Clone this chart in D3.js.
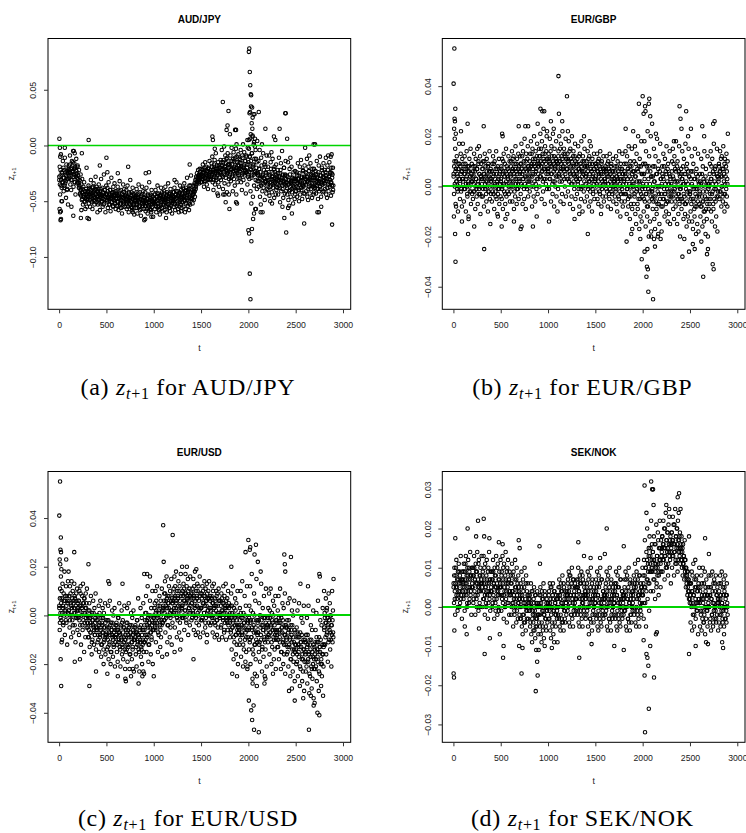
<!DOCTYPE html>
<html>
<head>
<meta charset="utf-8">
<script src="https://cdn.jsdelivr.net/npm/d3@7"></script>
<style>
  body { margin: 0; background: #fff; }
  svg { display: block; }
</style>
</head>
<body>
<svg id="chart" width="746" height="833"></svg>
<script>
// ── Data ─────────────────────────────────────────────────────────────────────
// values are z_{t+1} in units of 1e-3. Each row of a cloud / core list holds the
// points of one block of 100 time steps (t = 0..2900); core rows are the dense
// middle of the band, extras are isolated points [t, value]
const tTicks = [0, 500, 1000, 1500, 2000, 2500, 3000];

const audjpyTicks = [-0.10, -0.05, 0.00, 0.05];
const audjpyCloud = [
  [-31,-19,-44,-27,-8,-36,-24,-50,-33,-14,-29,-41,-22,-38,-11,-34,-26,-47,-17,-30,-39,-25,-53,-21],
  [-18,-29,-24,-9,-35,-21,-40,-27,-14,-31,-23,-5,-37,-26,-16,-33,-20,-44,-28,-12,-25,-34,-19,-30],
  [-27,-34,-22,-38,-31,-44,-26,-40,-35,-49,-30,-42,-53,-37,-46,-33,-51,-41,-57,-44,-39,-48,-55,-43],
  [-41,-48,-36,-52,-44,-39,-55,-46,-31,-43,-50,-38,-57,-45,-42,-34,-49,-53,-40,-47,-28,-44,-51,-37],
  [-46,-39,-53,-42,-35,-49,-44,-58,-41,-47,-30,-51,-45,-38,-55,-43,-48,-26,-52,-40,-46,-60,-44,-36],
  [-43,-50,-38,-56,-46,-33,-48,-44,-53,-40,-59,-47,-29,-45,-51,-42,-55,-37,-49,-45,-34,-52,-41,-57],
  [-48,-41,-54,-45,-37,-51,-58,-44,-47,-32,-53,-49,-40,-56,-46,-61,-43,-50,-35,-47,-52,-39,-55,-45],
  [-45,-52,-40,-57,-48,-36,-50,-46,-60,-43,-54,-49,-31,-47,-55,-42,-51,-58,-38,-48,-53,-44,-62,-49],
  [-50,-43,-56,-47,-39,-53,-61,-46,-49,-35,-55,-51,-42,-58,-48,-63,-45,-52,-37,-49,-54,-41,-57,-47],
  [-47,-54,-42,-59,-50,-38,-52,-48,-61,-45,-56,-51,-33,-49,-57,-44,-53,-60,-40,-50,-55,-46,-64,-51],
  [-51,-44,-57,-48,-40,-54,-60,-46,-50,-36,-55,-52,-43,-58,-47,-62,-45,-53,-38,-49,-56,-42,-59,-48],
  [-46,-53,-41,-58,-49,-37,-51,-47,-60,-44,-55,-50,-34,-48,-56,-43,-52,-59,-39,-47,-54,-45,-61,-50],
  [-49,-42,-55,-46,-38,-52,-58,-44,-48,-33,-54,-50,-41,-57,-45,-60,-43,-51,-36,-47,-53,-40,-56,-46],
  [-44,-51,-38,-55,-46,-34,-49,-43,-57,-40,-52,-47,-29,-45,-54,-41,-50,-58,-36,-44,-53,-42,-27,-48],
  [-47,-40,-52,-44,-36,-49,-42,-34,-46,-31,-39,-28,-35,-25,-32,-29,-22,-31,-27,-34,-21,-29,-26,-33],
  [-28,-21,-33,-25,-17,-30,-24,-37,-22,-29,-15,-32,-26,-19,-35,-27,-23,-39,-30,-20,-25,-14,-31,-24],
  [-22,-30,-16,-27,-10,-33,-24,-40,-19,-28,-13,-35,-21,-7,-31,-25,-18,-43,-26,-15,-23,-37,-20,-29],
  [-24,-13,-31,-18,-4,-27,-21,-39,-15,-26,-1,-34,-19,-9,-29,-22,-12,-42,-25,-7,-17,-35,-20,-28],
  [-17,-26,-9,-32,-21,-2,-28,-14,-41,-23,-6,-30,-19,-36,-11,-25,-3,-44,-20,-15,-33,-22,-8,-27],
  [-21,-12,-29,-16,-4,-33,-19,-40,-9,-25,1,-31,-18,-6,-27,-23,-14,-43,-24,-10,-20,-35,-2,-26],
  [-15,-3,-30,-10,6,-41,-22,-52,-7,-27,9,-46,-17,1,-36,-24,-1,-57,-31,-12,-20,-39,4,-26],
  [-25,-14,-37,-21,-4,-46,-30,-53,-11,-34,1,-41,-27,-7,-38,-29,-17,-49,-32,-19,-24,-43,-9,-35],
  [-31,-19,-40,-26,-9,-45,-33,-50,-15,-36,-6,-42,-28,-12,-38,-30,-21,-47,-34,-24,-29,-44,-17,-37],
  [-28,-38,-22,-44,-31,-11,-36,-25,-51,-33,-16,-41,-29,-5,-39,-27,-47,-32,-20,-35,-43,-26,-14,-30],
  [-36,-27,-44,-31,-15,-49,-35,-54,-21,-40,-11,-46,-33,-19,-42,-34,-29,-52,-38,-30,-32,-48,-23,-41],
  [-30,-41,-24,-46,-34,-16,-38,-27,-50,-35,-19,-44,-32,-13,-40,-29,-48,-36,-22,-37,-43,-28,-18,-33],
  [-33,-24,-41,-28,-12,-46,-32,-49,-19,-37,-9,-43,-30,-16,-39,-31,-26,-47,-35,-25,-29,-44,-21,-38],
  [-29,-38,-23,-43,-32,-14,-36,-26,-48,-34,-18,-41,-30,-10,-39,-27,-46,-33,-20,-35,-42,-25,-16,-31],
  [-32,-22,-39,-27,-11,-44,-30,-47,-18,-35,-9,-41,-28,-15,-37,-31,-24,-45,-33,-25,-29,-42,-20,-36]
];
const audjpyCore = [
  [-28,-35,-22,-31,-38,-25,-33,-20,-29,-36,-24,-32,-27,-40,-23,-30],
  [-22,-27,-17,-25,-31,-20,-24,-15,-28,-21,-33,-19,-26,-23,-29,-18],
  [-33,-38,-36,-43,-40,-45,-42,-48,-39,-46,-44,-50,-41,-47,-43,-49],
  [-42,-46,-38,-44,-49,-40,-45,-51,-43,-37,-47,-41,-50,-44,-39,-48],
  [-45,-41,-48,-43,-52,-46,-39,-44,-50,-47,-42,-53,-45,-40,-49,-44],
  [-44,-49,-41,-47,-53,-45,-40,-48,-51,-43,-46,-54,-42,-47,-50,-45],
  [-47,-43,-50,-45,-54,-48,-41,-46,-52,-49,-44,-55,-47,-42,-51,-46],
  [-48,-44,-51,-46,-55,-49,-42,-47,-53,-50,-45,-56,-48,-43,-52,-47],
  [-49,-53,-45,-51,-56,-47,-43,-50,-54,-48,-46,-57,-44,-52,-49,-51],
  [-50,-54,-46,-52,-57,-48,-44,-51,-55,-49,-47,-58,-45,-53,-50,-52],
  [-48,-52,-44,-50,-55,-46,-43,-49,-54,-47,-45,-57,-44,-51,-48,-53],
  [-47,-51,-43,-49,-54,-45,-42,-48,-53,-46,-44,-56,-43,-50,-47,-52],
  [-46,-50,-42,-48,-53,-44,-41,-47,-52,-45,-43,-55,-42,-49,-46,-51],
  [-43,-47,-39,-45,-50,-41,-38,-44,-49,-42,-40,-52,-39,-46,-36,-48],
  [-45,-48,-42,-44,-39,-41,-35,-37,-31,-33,-28,-30,-26,-29,-24,-27],
  [-26,-30,-22,-28,-24,-32,-20,-27,-25,-29,-23,-31,-21,-26,-28,-24],
  [-24,-28,-19,-26,-22,-31,-17,-25,-23,-29,-20,-27,-21,-33,-18,-24],
  [-20,-25,-15,-22,-18,-28,-13,-21,-19,-26,-16,-23,-11,-24,-17,-30],
  [-19,-24,-14,-22,-17,-27,-12,-21,-20,-26,-15,-23,-10,-25,-18,-29],
  [-18,-23,-13,-21,-16,-26,-11,-20,-19,-25,-14,-22,-9,-24,-17,-28],
  [-17,-24,-10,-21,-14,-29,-7,-19,-18,-26,-12,-23,-4,-25,-15,-32],
  [-27,-32,-21,-29,-24,-36,-18,-28,-26,-34,-22,-30,-15,-33,-25,-39],
  [-29,-34,-24,-31,-27,-37,-21,-30,-28,-35,-25,-32,-19,-33,-26,-40],
  [-30,-35,-25,-32,-28,-38,-22,-31,-29,-36,-26,-33,-20,-34,-27,-41],
  [-33,-38,-28,-35,-31,-41,-26,-34,-32,-39,-29,-36,-24,-37,-30,-44],
  [-32,-37,-27,-34,-30,-40,-25,-33,-31,-38,-28,-35,-23,-36,-29,-43],
  [-30,-35,-25,-33,-28,-39,-23,-31,-29,-36,-26,-34,-21,-37,-27,-42],
  [-31,-36,-26,-33,-29,-39,-24,-32,-30,-37,-27,-34,-22,-35,-28,-41],
  [-29,-34,-24,-32,-27,-38,-22,-30,-28,-35,-25,-33,-20,-36,-26,-40]
];
const audjpyExtra = [
  [3,6],[8,-2],[12,-10],[5,-57],[10,-60],[15,-67],[20,-66],[18,-59],[25,-50],[60,-2],[130,-55],[150,-63],
  [155,-5],[165,-7],[240,-7],[230,-65],[235,-58],[300,-65],[312,5],[315,-66],[290,-20],[430,-18],[405,-60],
  [500,-11],[510,-24],[620,-25],[730,-19],[780,-60],[900,-67],[910,-66],[915,-25],[950,-24],[975,-64],
  [1130,-65],[1220,-31],[1290,-59],[1380,-17],[1330,-60],[1620,8],[1625,5],[1645,-3],[1680,-45],[1730,39],
  [1735,-44],[1750,-44],[1760,-51],[1770,14],[1780,18],[1790,31],[1795,-44],[1800,-57],[1805,10],[1860,14],
  [1870,14],[1875,1],[1870,-51],[1880,-52],[1990,5],[2000,-76],[2005,84],[2008,-79],[2010,87],[2012,29],
  [2015,66],[2015,-115],[2018,30],[2020,54],[2022,-138],[2025,46],[2028,35],[2030,45],[2032,-86],[2035,20],
  [2038,-75],[2040,34],[2042,15],[2045,25],[2050,-66],[2055,28],[2060,-61],[2065,28],[2070,6],[2080,-57],
  [2005,5],[2025,10],[2045,8],[2060,3],[2110,30],[2130,-60],[2150,-60],[2180,15],[2250,-52],[2270,8],
  [2285,5],[2330,15],[2360,-55],[2380,-65],[2390,29],[2395,29],[2400,-78],[2410,6],[2420,-56],[2460,-61],
  [2590,-70],[2600,-2],[2690,1],[2705,1],[2730,-60],[2745,-60],[2770,-55],[2870,-10],[2880,-8],[2885,-71]
];

const eurgbpTicks = [-0.04, -0.02, 0.00, 0.02, 0.04];
const eurgbpCloud = [
  [5,-3,10,1,15,-7,7,2,12,-1,4,-10,9,0,17,3,-5,8,13,-2,6,-8,11,3],
  [2,9,-6,5,12,-1,7,-10,3,14,0,-4,8,1,-12,6,11,-2,4,15,-7,2,9,-3],
  [4,-5,8,1,13,-2,6,-9,11,3,-1,7,15,-7,2,10,-3,5,0,12,-11,4,9,-4],
  [1,7,-4,10,3,-8,5,13,-1,8,2,-6,11,0,4,-10,9,-2,6,14,-5,3,7,-3],
  [3,-6,9,0,12,-3,5,-9,10,1,-2,7,14,-5,2,-11,8,-1,4,11,-7,1,6,-4],
  [2,8,-5,11,0,-9,6,13,-2,4,9,-7,1,15,-4,5,-11,7,3,12,-3,0,10,-6],
  [5,-2,10,2,14,-6,7,0,12,-9,4,9,-4,16,1,6,-7,11,3,-1,13,-5,8,2],
  [6,12,-3,9,17,0,5,-7,14,3,10,-5,19,1,7,-9,13,4,-1,11,16,-4,8,2],
  [7,-2,13,4,18,0,9,-8,15,5,11,-4,20,2,8,-6,14,6,-1,12,17,-3,10,3],
  [9,15,0,12,21,4,8,-5,18,6,13,-2,23,3,10,-7,16,7,1,14,20,-1,11,5],
  [6,13,-1,10,19,3,8,-6,16,5,12,-3,21,2,9,-8,15,7,0,11,18,-4,10,4],
  [9,-1,14,5,20,2,10,-6,17,7,12,-3,22,4,8,-7,15,6,0,13,19,-4,11,3],
  [7,13,-2,10,18,2,6,-7,15,4,11,-4,20,1,8,-9,14,5,-1,12,17,-5,9,3],
  [4,-3,11,2,16,-1,7,-8,13,3,9,-5,18,0,6,-10,12,5,-2,10,15,-6,8,1],
  [5,10,-4,8,14,-1,3,-8,12,2,9,-6,16,0,6,-10,11,4,-3,7,13,-5,2,9],
  [3,-2,9,1,13,-5,6,-7,11,4,8,-3,14,0,5,-8,10,2,-4,7,12,-6,6,1],
  [2,8,-4,6,12,-2,4,-8,10,1,7,-5,13,-1,5,-9,9,3,-3,6,11,-6,3,0],
  [1,-4,8,-1,12,-7,4,-10,10,2,6,-5,14,-2,3,-12,9,0,-6,7,13,-8,5,-3],
  [3,9,-6,5,14,-3,1,-11,12,-1,7,-8,16,-4,4,-13,10,0,-7,8,15,-9,2,6],
  [0,-7,10,-3,16,-11,4,-15,13,-1,7,-9,20,-5,2,-17,11,-2,-12,8,18,-14,5,-4],
  [1,9,-10,5,18,-6,-1,-16,14,-3,8,-12,22,-8,3,-20,12,-2,-14,6,20,-18,4,-5],
  [-2,-9,8,-4,15,-13,2,-17,12,-6,5,-11,19,-7,0,-19,10,-3,-15,6,17,-21,3,-8],
  [1,8,-8,4,13,-5,-1,-12,11,-3,6,-10,16,-6,2,-14,9,-2,-11,5,14,-15,3,-4],
  [0,-6,10,-2,15,-9,3,-13,12,-1,7,-8,18,-4,2,-15,10,-3,-11,6,16,-7,4,-5],
  [-1,7,-9,3,14,-6,1,-13,11,-4,5,-11,17,-7,2,-16,9,-2,-12,6,15,-14,4,-3],
  [-3,-10,6,-5,12,-14,0,-17,9,-6,3,-12,15,-8,-1,-19,7,-4,-15,4,13,-18,1,-7],
  [-2,5,-12,1,11,-8,-4,-16,8,-6,3,-14,14,-10,0,-19,7,-5,-13,2,12,-20,-1,-9],
  [1,-7,9,-3,14,-10,3,-14,11,-2,6,-9,17,-5,2,-16,8,-1,-12,5,15,-18,4,-4],
  [2,9,-5,6,14,-2,4,-8,12,0,7,-6,16,-3,5,-10,11,1,-7,8,13,-4,3,10]
];
const eurgbpCore = [
  [4,8,0,6,10,2,5,-2,7,3,9,1,5,-1,6,3],
  [3,7,-1,5,9,1,4,-3,6,2,8,0,4,-2,5,2],
  [2,6,-2,4,8,0,3,-4,7,1,9,-1,5,-3,4,3],
  [3,7,-1,5,10,1,4,-3,6,2,8,-2,4,0,6,2],
  [2,6,-2,4,9,0,3,-4,5,1,7,-3,3,-1,5,1],
  [3,7,-1,5,10,1,4,-3,6,2,8,-2,4,0,6,2],
  [4,8,0,6,11,2,5,-2,7,3,9,-1,5,1,7,3],
  [5,9,1,7,12,3,6,-1,8,4,10,0,6,2,8,4],
  [6,10,2,8,13,4,7,0,9,5,11,1,7,3,9,5],
  [8,12,4,10,15,6,9,2,11,7,13,3,9,5,11,7],
  [7,11,3,9,14,5,8,1,10,6,12,2,8,4,10,6],
  [8,12,4,10,15,6,9,2,11,7,13,3,9,5,11,7],
  [7,11,3,9,14,5,8,1,10,6,12,2,8,4,10,6],
  [5,9,1,7,12,3,6,-1,8,4,10,0,6,2,8,4],
  [4,8,0,6,11,2,5,-2,7,3,9,-1,5,1,7,3],
  [4,8,0,6,10,2,5,-2,7,3,9,-1,5,1,7,3],
  [3,7,-1,5,9,1,4,-3,6,2,8,-2,4,0,6,2],
  [2,6,-2,4,8,0,3,-4,5,1,7,-3,3,-1,5,1],
  [2,6,-3,4,9,-1,3,-5,6,1,8,-4,3,-2,5,0],
  [1,6,-4,4,9,-2,2,-7,6,0,8,-5,2,-3,5,-1],
  [0,5,-5,3,9,-3,1,-8,6,-1,8,-6,1,-4,4,-2],
  [-1,4,-6,2,8,-4,0,-9,5,-2,7,-7,0,-5,3,-3],
  [0,5,-5,3,8,-3,1,-7,5,-1,7,-6,1,-4,4,-2],
  [1,6,-4,4,9,-2,2,-6,6,0,8,-5,2,-3,5,-1],
  [0,5,-5,3,8,-3,1,-7,5,-1,7,-6,1,-4,4,-2],
  [-2,3,-7,1,6,-5,-1,-9,3,-3,5,-8,-1,-6,2,-4],
  [-3,2,-8,0,5,-6,-2,-10,2,-4,4,-9,-2,-7,1,-5],
  [0,5,-5,3,8,-3,1,-7,5,-1,7,-6,1,-4,4,-2],
  [3,8,-2,6,11,0,4,-4,7,2,9,-3,4,-1,6,1]
];
const eurgbpExtra = [
  [2,41],[8,23],[10,55],[12,27],[14,19],[16,26],[18,-19],[20,31],[22,-30],[25,21],[5,-12],[28,-8],[80,22],
  [100,17],[90,-14],[150,25],[155,-19],[160,-13],[220,-16],[270,16],[320,24],[325,-25],[390,-15],[470,-12],
  [510,-16],[515,21],[520,20],[550,-13],[640,-14],[690,24],[710,-17],[720,-16],[760,24],[790,24],[840,-16],
  [880,-12],[890,25],[920,31],[940,30],[960,30],[990,22],[1010,-14],[1030,26],[1060,23],[1100,-10],[1110,44],
  [1115,29],[1150,26],[1200,36],[1210,22],[1280,-13],[1330,-11],[1380,20],[1420,-19],[1440,18],[1560,-11],
  [1820,23],[1830,-22],[1880,-19],[1890,-17],[1900,22],[1960,33],[1975,-21],[1990,-29],[2000,36],[2010,29],
  [2020,-26],[2025,32],[2030,30],[2040,-36],[2045,-32],[2050,-25],[2055,-33],[2060,-42],[2065,33],[2070,35],
  [2080,28],[2090,-20],[2100,25],[2110,-45],[2120,-21],[2130,-24],[2140,21],[2160,-20],[2200,-18],[2330,18],
  [2390,32],[2395,-20],[2400,27],[2410,23],[2420,-28],[2440,-21],[2460,30],[2480,20],[2490,-26],[2510,23],
  [2530,-23],[2550,-25],[2620,-22],[2630,24],[2640,-36],[2650,20],[2680,-27],[2690,-25],[2740,-31],[2745,25],
  [2750,-33],[2760,26],[2900,21],[2895,-8]
];

const eurusdTicks = [-0.04, -0.02, 0.00, 0.02, 0.04];
const eurusdCloud = [
  [4,-6,11,1,16,-2,7,-10,13,3,-4,9,0,18,-8,6,2,12,-3,8,-12,5,14,1],
  [2,8,-5,12,0,5,-9,14,3,-2,10,-7,6,1,13,-4,7,-11,4,9,-1,11,-6,3],
  [-1,6,-8,10,2,-4,12,-12,4,0,8,-6,13,-2,5,-15,7,1,-9,9,3,-5,11,-3],
  [-3,-9,2,-6,5,-13,-1,-7,8,-4,-16,1,-10,-2,6,-5,-12,3,-8,-3,9,-14,-6,0],
  [-5,-11,0,-8,4,-15,-3,-9,6,-6,-17,-1,-12,-4,3,-7,-14,1,-10,-5,5,-16,-8,-2],
  [-7,-14,-2,-10,4,-18,-5,-12,6,-8,-20,-3,-15,-6,2,-9,-17,0,-13,-7,3,-21,-11,-4],
  [-9,-3,-15,-6,-19,-1,-11,-7,5,-13,-8,-21,-4,-10,2,-16,-12,-2,-18,-5,-9,4,-14,-22],
  [-8,-15,-3,-12,3,-19,-6,-13,5,-9,-22,-4,-16,-7,1,-11,-18,-1,-14,-8,2,-23,-10,-5],
  [-10,-4,-16,-7,-21,-2,-12,-8,7,-14,-9,-23,-5,-11,3,-17,-13,-1,-20,-6,-10,5,-15,-24],
  [-4,-11,1,-8,8,-15,-2,-9,12,-5,-19,0,-12,-3,6,-7,-16,3,-10,-4,10,-20,-6,-1],
  [0,-6,5,-3,10,-11,2,-5,12,-1,-15,4,-8,1,8,-4,-13,6,-9,-2,11,-17,-3,3],
  [4,-2,9,1,14,-7,6,-1,16,3,-11,8,-4,5,12,0,-9,10,-5,2,15,-12,7,-3],
  [6,0,11,3,16,-5,8,1,18,5,-9,10,-2,7,14,2,-7,12,-3,4,17,-10,9,-1],
  [4,10,-1,13,6,-6,9,2,17,5,-3,12,0,8,15,-8,7,3,11,-4,16,1,9,-2],
  [5,-1,11,2,15,-6,8,0,18,4,-8,10,-3,7,13,1,-7,12,-4,3,16,-9,9,-2],
  [3,9,-2,12,5,-7,8,1,14,4,-5,11,-1,6,13,-8,7,2,10,-3,14,0,8,-4],
  [2,-3,8,0,12,-7,5,-1,13,3,-9,7,-4,4,10,-2,-8,9,-5,1,11,-10,6,-1],
  [0,6,-5,9,2,-9,5,-1,12,1,-7,8,-3,4,13,-10,3,-2,7,-6,10,-4,5,-1],
  [-2,-9,4,-6,9,-14,1,-5,12,-3,-18,3,-11,-1,7,-8,-16,5,-12,-4,10,-20,-7,0],
  [-4,-12,3,-8,10,-17,-1,-7,14,-5,-21,1,-14,-3,8,-10,-19,4,-15,-6,12,-22,-9,-2],
  [-5,-14,4,-10,12,-20,-2,-9,17,-6,-26,1,-16,-4,9,-12,-24,6,-18,-7,15,-29,-11,-3],
  [-7,-2,-15,5,-11,-19,0,-8,13,-4,-23,-13,3,-6,-17,8,-10,-25,-1,-14,11,-5,-21,-9],
  [-4,-11,3,-8,9,-16,-1,-7,11,-5,-20,1,-13,-3,6,-9,-18,4,-14,-6,8,-22,-10,-2],
  [-6,-13,2,-10,8,-18,-3,-9,11,-7,-22,-1,-15,-5,5,-11,-20,3,-16,-8,9,-24,-12,-4],
  [-9,-16,-2,-13,5,-21,-6,-12,7,-10,-25,-4,-18,-8,2,-14,-23,0,-19,-11,6,-27,-15,-7],
  [-12,-20,-5,-16,2,-25,-9,-15,5,-13,-29,-7,-22,-11,-1,-18,-27,-3,-23,-14,4,-31,-19,-10],
  [-15,-23,-8,-19,-1,-28,-12,-18,4,-16,-32,-10,-25,-14,-4,-21,-30,-6,-26,-17,2,-34,-22,-13],
  [-14,-22,-6,-18,1,-27,-11,-17,6,-15,-31,-9,-24,-13,-2,-20,-29,-4,-25,-16,3,-33,-21,-12],
  [-6,1,-12,-3,7,-16,-8,3,-1,-19,-5,9,-10,-2,5,-14,-7,0,-21,-4,10,-11,2,-9]
];
const eurusdCore = [
  [3,7,-1,5,10,1,4,-3,6,2,8,-2,4,0,6,1],
  [2,6,-2,9,4,0,7,-4,5,3,8,1,-1,6,2,5],
  [2,6,-2,4,9,0,3,-4,5,1,7,-3,3,-1,5,0],
  [-5,-1,-9,2,-3,-7,0,-11,-2,-4,1,-6,-8,-1,-5,-2],
  [-6,-2,-10,-4,1,-8,-5,-12,-3,-7,-1,-11,-5,-9,-3,-8],
  [-9,-5,-13,-2,-7,-11,-4,-15,-6,-8,-3,-10,-12,-5,-9,-6],
  [-8,-4,-12,-6,-1,-10,-7,-14,-5,-9,-3,-13,-7,-11,-5,-10],
  [-10,-6,-14,-3,-8,-12,-5,-16,-7,-9,-4,-11,-13,-6,-10,-7],
  [-9,-5,-13,-7,-2,-11,-8,-15,-6,-10,-4,-14,-8,-12,-6,-11],
  [-6,-2,-10,1,-4,-8,-1,-12,-3,-5,0,-7,-9,-2,-6,-3],
  [-1,3,-5,1,6,-3,0,-7,2,-2,4,-6,0,-4,2,-3],
  [2,6,-2,9,4,0,7,-4,5,3,8,1,-1,6,2,5],
  [5,9,1,7,12,3,6,-1,8,4,10,0,6,2,8,3],
  [4,8,0,11,6,2,9,-2,7,5,10,3,1,8,4,7],
  [5,9,1,7,12,3,6,-1,8,4,10,0,6,2,8,3],
  [3,7,-1,10,5,1,8,-3,6,4,9,2,0,7,3,6],
  [3,7,-1,5,10,1,4,-3,6,2,8,-2,4,0,6,1],
  [0,4,-4,7,2,-2,5,-6,3,1,6,-1,-3,4,0,3],
  [-3,1,-7,-1,4,-5,-2,-9,0,-4,2,-8,-2,-6,0,-5],
  [-6,-2,-10,1,-4,-8,-1,-12,-3,-5,0,-7,-9,-2,-6,-3],
  [-6,-1,-11,-3,2,-9,-5,-14,-2,-7,0,-12,-5,-10,-2,-8],
  [-7,-2,-12,0,-5,-10,-2,-14,-4,-6,-1,-9,-11,-3,-7,-4],
  [-5,-1,-9,-3,2,-7,-4,-11,-2,-6,0,-10,-4,-8,-2,-7],
  [-8,-3,-13,-1,-6,-11,-3,-15,-5,-7,-2,-10,-12,-4,-8,-5],
  [-10,-5,-15,-7,-2,-13,-9,-18,-6,-11,-4,-16,-9,-14,-6,-12],
  [-14,-9,-19,-7,-12,-17,-9,-21,-11,-13,-8,-16,-18,-10,-14,-11],
  [-16,-11,-21,-13,-8,-19,-15,-24,-12,-17,-10,-22,-15,-20,-12,-18],
  [-16,-11,-21,-9,-14,-19,-11,-23,-13,-15,-10,-18,-20,-12,-16,-13],
  [-5,-1,-9,-3,2,-7,-4,-11,-2,-6,0,-10,-4,-8,-2,-7]
];
const eurusdExtra = [
  [2,41],[6,23],[8,-3],[10,55],[12,21],[14,27],[16,-18],[18,32],[20,26],[22,-29],[24,19],[26,-11],[75,23],
  [100,18],[160,26],[165,-19],[220,-18],[310,21],[320,-29],[390,-23],[470,-20],[510,-24],[520,14],[530,13],
  [620,-25],[670,13],[700,-26],[705,-27],[760,-25],[780,-22],[840,-28],[880,-25],[890,-23],[900,17],[930,17],
  [960,16],[1000,-25],[1100,37],[1105,22],[1140,-16],[1200,33],[1220,-15],[1280,-14],[1300,20],[1350,20],
  [1420,-18],[1450,19],[1560,-11],[1820,20],[1830,-24],[1880,-25],[1970,26],[1990,-21],[2000,31],[2005,-35],
  [2015,27],[2020,28],[2030,-39],[2040,-43],[2045,-28],[2055,-37],[2060,-47],[2065,25],[2080,29],[2090,-25],
  [2100,22],[2110,-48],[2130,18],[2170,-28],[2180,-26],[2260,-24],[2380,25],[2385,21],[2390,18],[2430,-31],
  [2450,24],[2460,-30],[2490,-35],[2550,13],[2580,-34],[2630,12],[2640,-47],[2660,-33],[2690,-37],[2700,-36],
  [2730,-40],[2750,-41],[2750,17],[2755,16],[2800,10],[2900,15]
];

const seknokTicks = [-0.03, -0.02, -0.01, 0.00, 0.01, 0.02, 0.03];
const seknokCloud = [
  [6,1,10,4,-2,8,5,12,2,7,-1,9,3,11,6,0,8,4,13,2,7,-3,9,5],
  [7,2,11,5,-1,9,6,13,3,8,0,10,4,12,7,1,9,5,14,3,8,-2,10,6],
  [5,10,1,8,13,4,7,-2,11,6,2,9,14,3,7,-1,12,5,8,0,10,4,6,13],
  [6,0,9,4,13,2,7,-2,11,5,1,8,12,3,6,-3,10,4,14,2,7,-1,9,5],
  [4,9,0,7,12,3,6,-3,10,5,1,8,13,2,6,-2,11,4,7,-1,9,3,5,12],
  [5,-1,9,3,13,1,7,-3,11,4,0,8,14,2,6,-4,10,5,12,1,7,-2,9,4],
  [3,8,-2,6,11,1,4,-5,9,2,-1,7,12,0,5,-4,10,3,6,-3,8,1,4,-2],
  [2,-3,6,0,9,-5,3,-7,7,1,-2,5,10,-4,2,-6,8,0,4,-1,6,-3,3,1],
  [-1,3,-5,1,6,-7,0,-9,4,-2,-4,2,5,-6,-1,-8,3,-3,1,-5,4,-2,0,-7],
  [0,-4,3,-2,5,-7,1,-9,4,-1,-5,2,6,-8,-2,-10,3,0,-3,-6,2,-1,-4,1],
  [1,-3,4,-1,6,-6,2,-8,5,0,-4,3,6,-7,-1,-9,4,1,-2,-5,3,0,-3,2],
  [2,-2,5,0,7,-5,3,-6,6,1,-3,4,8,-4,0,-6,5,2,-1,-4,4,1,-2,3],
  [4,-1,7,2,9,-4,5,-5,8,3,-2,6,10,-3,1,-5,7,3,0,-2,6,2,-1,5],
  [3,7,-2,5,10,-4,4,-5,8,2,-1,6,9,-3,1,-5,7,3,0,6,-2,4,2,-3],
  [3,-2,6,0,9,-5,4,-7,8,1,-3,5,10,-4,2,-6,7,2,-1,-4,5,0,-2,3],
  [2,7,-3,5,9,-5,3,-6,8,1,-2,6,10,-4,0,-5,7,2,-1,4,-3,3,1,-2],
  [3,-2,6,0,9,-5,4,-6,8,1,-3,5,10,-4,2,-6,7,2,-1,-3,5,0,-2,3],
  [2,6,-3,5,9,-5,3,-6,8,1,-2,5,10,-4,0,-5,7,2,-1,4,-3,3,1,-2],
  [3,-1,7,0,9,-5,4,-6,8,2,-3,5,10,-4,1,-6,7,2,-2,-4,6,0,-1,3],
  [4,8,-2,6,11,-4,5,-5,9,2,-1,7,12,-3,3,-5,8,4,0,6,-2,5,1,10],
  [3,8,-3,12,5,17,1,10,-5,14,7,20,2,11,6,15,-1,18,9,13,4,22,10,16],
  [9,14,4,12,18,7,11,2,16,10,21,6,13,8,19,11,3,15,9,22,12,5,17,13],
  [14,18,9,16,22,12,15,7,20,13,24,11,17,10,19,15,8,21,14,23,16,12,18,6],
  [15,19,10,17,23,13,16,8,21,14,25,12,18,11,20,16,9,22,15,24,17,13,19,11],
  [15,12,18,10,14,8,16,11,13,7,17,9,12,5,10,6,8,3,9,4,7,2,6,1],
  [2,-4,6,1,9,-6,4,-2,11,3,-5,7,0,12,-3,5,1,8,-1,4,-7,6,2,10],
  [1,-5,5,-1,8,-6,3,-3,10,2,-4,6,-2,9,-7,4,0,7,-1,3,-5,5,1,8],
  [0,5,-4,3,8,-6,2,-2,9,1,-5,6,-1,7,-3,4,0,8,-4,3,-2,5,1,-6],
  [2,-4,6,0,8,-5,3,-2,9,1,-3,5,-1,7,-5,4,0,8,-3,3,-4,6,1,-2]
];
const seknokCore = [
  [5,8,2,6,10,3,5,0,7,4,9,1,6,3,7,4],
  [6,9,3,7,11,4,6,1,8,5,10,2,7,4,8,5],
  [5,8,2,10,7,3,9,0,6,5,11,4,1,8,6,7],
  [5,8,2,6,10,3,5,0,7,4,9,1,6,3,7,4],
  [4,7,1,9,6,2,8,-1,5,4,10,3,0,7,5,6],
  [5,8,2,6,10,3,5,0,7,4,9,1,6,3,7,4],
  [3,6,0,4,8,1,3,-2,5,2,7,-1,4,1,5,2],
  [0,3,-3,5,2,-2,4,-4,1,0,6,-1,-3,3,1,2],
  [-1,2,-4,0,4,-3,-1,-6,1,-2,3,-5,0,-3,1,-2],
  [-2,1,-5,3,0,-4,2,-6,-1,-2,4,-3,-5,1,-1,0],
  [0,3,-3,1,5,-2,0,-5,2,-1,4,-4,1,-2,2,-1],
  [0,3,-3,5,2,-2,4,-4,1,0,6,-1,-3,3,1,2],
  [3,6,0,4,8,1,3,-2,5,2,7,-1,4,1,5,2],
  [2,5,-1,7,4,0,6,-2,3,2,8,1,-1,5,3,4],
  [2,5,-1,3,7,0,2,-3,4,1,6,-2,3,0,4,1],
  [1,4,-2,6,3,-1,5,-3,2,1,7,0,-2,4,2,3],
  [2,5,-1,3,7,0,2,-3,4,1,6,-2,3,0,4,1],
  [1,4,-2,6,3,-1,5,-3,2,1,7,0,-2,4,2,3],
  [2,5,-1,3,7,0,2,-3,4,1,6,-2,3,0,4,1],
  [2,5,-1,7,4,0,6,-2,3,2,8,1,-1,5,3,4],
  [3,6,1,8,5,10,4,12,7,9,13,6,11,15,9,12],
  [10,14,7,12,16,9,11,5,13,10,17,8,12,15,11,9],
  [15,18,12,16,20,13,15,10,17,14,19,11,16,13,17,14],
  [16,19,13,17,21,14,16,11,18,15,20,12,17,14,18,15],
  [14,16,12,15,11,13,10,12,8,10,7,9,5,7,4,6],
  [3,6,0,4,8,1,3,-2,5,2,7,-1,4,1,5,2],
  [1,4,-2,2,6,-1,1,-4,3,0,5,-3,2,-1,3,0],
  [0,3,-3,5,2,-2,4,-4,1,0,6,-1,-3,3,1,2],
  [1,4,-2,2,6,-1,1,-4,3,0,5,-3,2,-1,3,0]
];
const seknokExtra = [
  [2,-17],[6,-18],[10,-6],[20,17.5],[120,-5],[140,-7],[150,20],[240,18],[260,22],[270,-5.5],[320,22.5],
  [325,18],[330,-12],[380,17.5],[385,-8],[480,16.5],[490,-7],[520,16],[525,-13],[530,-10],[690,17],[695,-10],
  [700,15],[720,-17],[730,-10.5],[870,-21.5],[875,-11],[885,-14],[890,-17.5],[900,-11],[910,15.5],[915,11],
  [1040,-10.5],[1100,-9],[1320,16.5],[1330,-13],[1380,13],[1450,12.5],[1460,-9.5],[1550,12.5],[1600,13.5],
  [1620,20],[1700,-10],[1800,15.5],[1800,-11],[2010,-8.5],[2020,31],[2020,-17.5],[2025,-32],[2040,24],
  [2040,-12],[2050,-13],[2060,-15],[2065,-26],[2080,-10],[2090,32],[2100,30],[2110,30],[2115,26],[2120,-18],
  [2140,-7],[2150,-6.5],[2250,26],[2280,25],[2370,28],[2385,29],[2400,25],[2490,18],[2490,-12],[2560,-10],
  [2660,17.5],[2670,-9],[2690,-9.5],[2700,13.5],[2840,-9],[2850,-10.5],[2860,-7]
];

const panels = [
  { title: 'AUD/JPY', tag: '(a)', cloud: audjpyCloud, core: audjpyCore, extra: audjpyExtra, ticks: audjpyTicks, lineW: 1.3, col: 0, row: 0 },
  { title: 'EUR/GBP', tag: '(b)', cloud: eurgbpCloud, core: eurgbpCore, extra: eurgbpExtra, ticks: eurgbpTicks, lineW: 2, col: 1, row: 0 },
  { title: 'EUR/USD', tag: '(c)', cloud: eurusdCloud, core: eurusdCore, extra: eurusdExtra, ticks: eurusdTicks, lineW: 2, col: 0, row: 1 },
  { title: 'SEK/NOK', tag: '(d)', cloud: seknokCloud, core: seknokCore, extra: seknokExtra, ticks: seknokTicks, lineW: 2, col: 1, row: 1 }
];

// ── Layout ───────────────────────────────────────────────────────────────────
const N = 2963, BLOCK = 100;
const box = { x: 48, y: 38.5, w: 302.7, h: 270.8 };
const offX = 394.3, offY = 433;
const sans = "'Liberation Sans', Arial, Helvetica, sans-serif";
const serif = "'Liberation Serif', 'Times New Roman', serif";

const svg = d3.select('#chart');

function blockPoints(rows, shift) {
	const out = [];
	rows.forEach((vals, b) => vals.forEach((v, i) =>
		out.push({ t: b * BLOCK + (i + shift) * BLOCK / vals.length, v: v / 1000 })));
	return out;
}

// ── Panels ───────────────────────────────────────────────────────────────────
panels.forEach(p => {
	const g = svg.append('g')
		.attr('transform', `translate(${p.col * offX},${p.row * offY})`);

	const pts = blockPoints(p.cloud, 0.5)
		.concat(blockPoints(p.core, 0.3))
		.concat(p.extra.map(([t, v]) => ({ t, v: v / 1000 })));

	// R style 4% padding on both axes
	const x = d3.scaleLinear()
		.domain([1 - 0.04 * (N - 1), N + 0.04 * (N - 1)])
		.range([box.x, box.x + box.w]);
	const [lo, hi] = d3.extent(pts, d => d.v);
	const pad = 0.04 * (hi - lo);
	const y = d3.scaleLinear()
		.domain([lo - pad, hi + pad])
		.range([box.y + box.h, box.y]);

	// points
	g.append('g').selectAll('circle')
		.data(pts)
		.enter().append('circle')
		.attr('cx', d => x(d.t))
		.attr('cy', d => y(d.v))
		.attr('r', 1.75)
		.attr('fill', 'none')
		.attr('stroke', '#000')
		.attr('stroke-width', 1.05);

	// zero line
	const y0 = Math.round(y(0)) + (p.lineW < 2 ? 0.5 : 0);
	g.append('line')
		.attr('x1', box.x).attr('x2', box.x + box.w)
		.attr('y1', y0).attr('y2', y0)
		.attr('stroke', '#00d400')
		.attr('stroke-width', p.lineW);

	// box
	g.append('rect')
		.attr('x', box.x).attr('y', box.y)
		.attr('width', box.w).attr('height', box.h)
		.attr('fill', 'none')
		.attr('stroke', '#000')
		.attr('stroke-width', 1);

	// x axis
	const xa = g.append('g')
		.attr('transform', `translate(0,${box.y + box.h})`)
		.call(d3.axisBottom(x).tickValues(tTicks).tickSize(4).tickSizeOuter(0).tickFormat(d3.format('d')));
	xa.select('.domain').remove();
	xa.selectAll('line').attr('stroke', '#333');
	xa.selectAll('text')
		.attr('y', 18.7).attr('dy', null)
		.attr('fill', '#222')
		.style('font-family', sans).style('font-size', '8.7px');

	// y axis
	const ya = g.append('g')
		.attr('transform', `translate(${box.x},0)`)
		.call(d3.axisLeft(y).tickValues(p.ticks).tickSize(4).tickSizeOuter(0).tickFormat(d3.format('.2f')));
	ya.select('.domain').remove();
	ya.selectAll('line').attr('stroke', '#333');
	ya.selectAll('text')
		.attr('x', null).attr('dy', null)
		.attr('text-anchor', 'middle')
		.attr('transform', 'translate(-11.6,0) rotate(-90)')
		.attr('fill', '#222')
		.style('font-family', sans).style('font-size', '8.7px');

	// title
	g.append('text')
		.attr('x', box.x + box.w / 2).attr('y', 23)
		.attr('text-anchor', 'middle')
		.style('font-family', sans).style('font-size', '10px').style('font-weight', 'bold')
		.text(p.title);

	// axis titles
	g.append('text')
		.attr('x', box.x + box.w / 2).attr('y', 351)
		.attr('text-anchor', 'middle')
		.attr('fill', '#222')
		.style('font-family', sans).style('font-size', '8.7px')
		.text('t');

	const yt = g.append('text')
		.attr('transform', `translate(14,${box.y + box.h / 2}) rotate(-90)`)
		.attr('text-anchor', 'middle')
		.attr('fill', '#222')
		.style('font-family', sans).style('font-size', '8.7px');
	yt.append('tspan').text('z');
	yt.append('tspan').attr('dy', 2).style('font-size', '6px').text('t+1');

	// caption under the panel
	const cap = g.append('text')
		.attr('x', 188).attr('y', 394.5 - p.row * 1.5)
		.attr('text-anchor', 'middle')
		.style('font-family', serif).style('font-size', '24px')
		.style('letter-spacing', '0.7px');
	cap.append('tspan').text(p.tag + ' ');
	cap.append('tspan').style('font-style', 'italic').text('z');
	cap.append('tspan').attr('dy', 4).style('font-size', '16px').style('font-style', 'italic').text('t');
	cap.append('tspan').style('font-size', '16px').text('+1');
	cap.append('tspan').attr('dy', -4).text(' for ' + p.title);
});
</script>
</body>
</html>
